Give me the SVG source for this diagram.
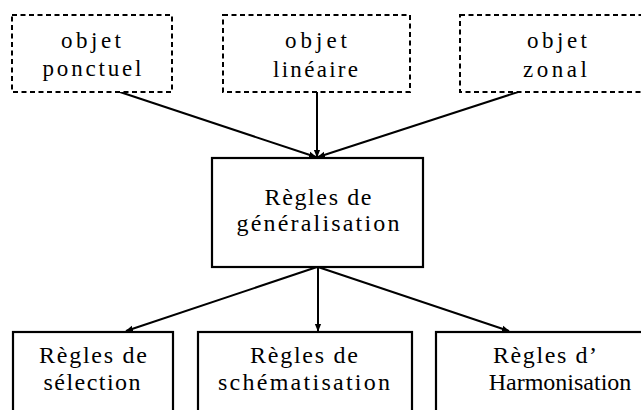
<svg xmlns="http://www.w3.org/2000/svg" width="641" height="410" viewBox="0 0 641 410">
<defs>
<style>
.dash{fill:#fff;stroke:#000;stroke-width:2;stroke-dasharray:5 3.5}
.box{fill:#fff;stroke:#000;stroke-width:2.2}
text{font-family:"Liberation Serif","DejaVu Serif",serif;font-size:23px;fill:#000;text-anchor:middle}
.b{font-size:24px}
.c{stroke:#000;stroke-width:2;fill:none;marker-end:url(#ah)}
</style>
<marker id="ah" viewBox="0 0 10 10" refX="9" refY="5" markerWidth="4" markerHeight="4" orient="auto" markerUnits="strokeWidth">
<path d="M0,1 L10,5 L0,9 z" fill="#000"/>
</marker>
</defs>
<rect width="641" height="410" fill="#fff"/>
<g id="connectors">
<line class="c" x1="120" y1="92" x2="316" y2="157"/>
<line class="c" x1="317" y1="92" x2="317" y2="157"/>
<line class="c" x1="518" y1="92" x2="318" y2="157"/>
<line class="c" x1="317" y1="267" x2="126" y2="331"/>
<line class="c" x1="318" y1="267" x2="318" y2="331"/>
<line class="c" x1="318" y1="267" x2="509" y2="331"/>
</g>
<g id="n1">
<rect class="dash" x="12" y="15" width="160" height="77"/>
<text x="91" y="48" textLength="60" lengthAdjust="spacing">objet</text>
<text x="92" y="76" textLength="99" lengthAdjust="spacing">ponctuel</text>
</g>
<g id="n2">
<rect class="dash" x="223" y="15" width="187" height="77"/>
<text x="316" y="48" textLength="62" lengthAdjust="spacing">objet</text>
<text x="315.5" y="77" textLength="85" lengthAdjust="spacing">linéaire</text>
</g>
<g id="n3">
<rect class="dash" x="460" y="15" width="192" height="77"/>
<text x="557" y="48" textLength="60" lengthAdjust="spacing">objet</text>
<text x="555" y="77" textLength="64" lengthAdjust="spacing">zonal</text>
</g>
<g id="n4">
<rect class="box" x="212" y="158" width="211" height="109"/>
<text class="b" x="318" y="205" textLength="107" lengthAdjust="spacing">Règles de</text>
<text class="b" x="318" y="231" textLength="163" lengthAdjust="spacing">généralisation</text>
</g>
<g id="n5">
<rect class="box" x="13" y="332" width="160" height="90"/>
<text class="b" x="93" y="363" textLength="108" lengthAdjust="spacing">Règles de</text>
<text class="b" x="92" y="390" textLength="97" lengthAdjust="spacing">sélection</text>
</g>
<g id="n6">
<rect class="box" x="198" y="332" width="214" height="90"/>
<text class="b" x="304" y="363" textLength="108" lengthAdjust="spacing">Règles de</text>
<text class="b" x="304" y="390" textLength="172" lengthAdjust="spacing">schématisation</text>
</g>
<g id="n7">
<rect class="box" x="436" y="332" width="248" height="90"/>
<text class="b" x="545" y="363" textLength="104" lengthAdjust="spacing">Règles d’</text>
<text class="b" x="560" y="390">Harmonisation</text>
</g>
</svg>
